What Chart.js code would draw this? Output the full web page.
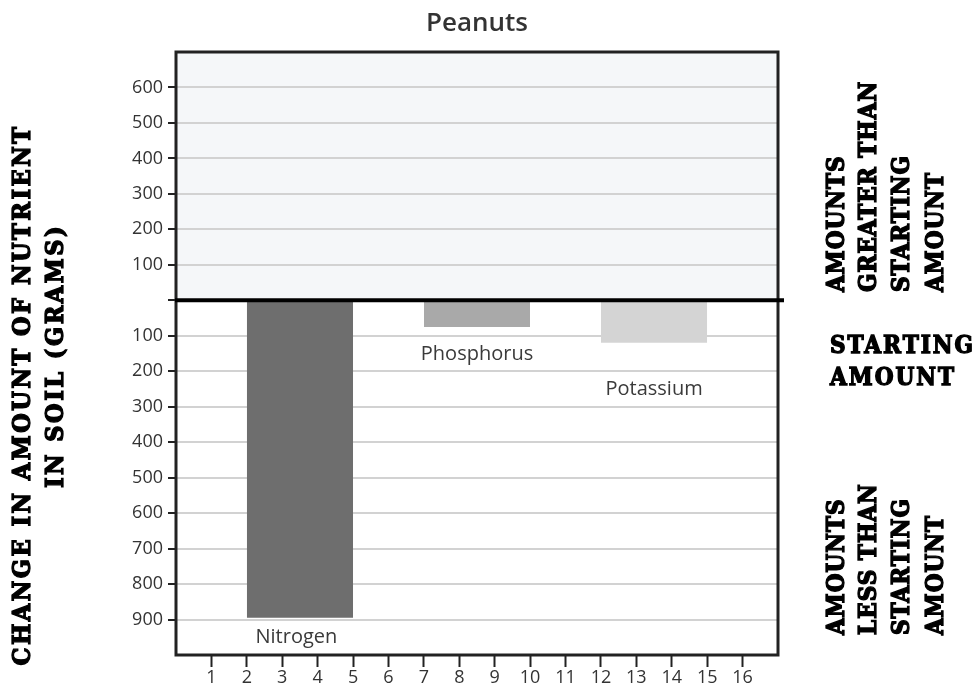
<!DOCTYPE html>
<html>
<head>
<meta charset="utf-8">
<script src="https://cdn.jsdelivr.net/npm/chart.js@4.4.0/dist/chart.umd.min.js"></script>
<style>
    html, body { margin: 0; padding: 0; background: #fff; }
    #wrap { width: 973px; height: 692px; }
</style>
</head>
<body>
<div id="wrap"><canvas id="peanutChart"></canvas></div>
<script>
// nutrient bars (grams, negative = less than starting amount)
const nutrients = ['Nitrogen', 'Phosphorus', 'Potassium'];
const barStart = [2, 7, 12];
const barEnd = [5, 10, 15];
const change = [-895, -75, -120];
const barColors = ['#6e6e6e', '#a9a9a9', '#d4d4d4'];
const labelX = [3.4, 8.5, 13.5];
const labelY = [-950, -152, -251];

const xTicks = [1, 2, 3, 4, 5, 6, 7, 8, 9, 10, 11, 12, 13, 14, 15, 16];
const yTicks = [600, 500, 400, 300, 200, 100, 0, -100, -200, -300, -400, -500, -600, -700, -800, -900];

const titleText = 'Peanuts';
const leftTitle = ['CHANGE IN AMOUNT OF NUTRIENT', 'IN SOIL (GRAMS)'];
const upperNote = ['AMOUNTS', 'GREATER THAN', 'STARTING', 'AMOUNT'];
const middleNote = ['STARTING', 'AMOUNT'];
const lowerNote = ['AMOUNTS', 'LESS THAN', 'STARTING', 'AMOUNT'];

const stampFont = 'bold 24px "DejaVu Serif Condensed", "DejaVu Serif", serif';
const leftFont = 'bold 25px "DejaVu Serif Condensed", "DejaVu Serif", serif';

// heavy "wood type" look: fill plus a thin stroke
function heavyText(ctx, text, x, y) {
    ctx.lineWidth = 1.3;
    ctx.strokeStyle = '#000';
    ctx.strokeText(text, x, y);
    ctx.fillText(text, x, y);
}

function drawUp(ctx, text, x, y, font, spacing, align) {
    ctx.save();
    ctx.translate(x, y);
    ctx.rotate(-Math.PI / 2);
    ctx.font = font;
    ctx.letterSpacing = spacing;
    ctx.textAlign = align;
    ctx.textBaseline = 'middle';
    heavyText(ctx, text, 0, 0);
    ctx.restore();
}

const decorPlugin = {
    id: 'decor',
    beforeDraw(chart) {
        const {ctx, chartArea, scales} = chart;
        const zeroY = scales.y.getPixelForValue(0);
        ctx.save();
        ctx.fillStyle = '#f5f7f9';
        ctx.fillRect(chartArea.left, chartArea.top, chartArea.right - chartArea.left, zeroY - chartArea.top);
        ctx.restore();
    },
    afterDatasetsDraw(chart) {
        const {ctx, chartArea, scales} = chart;
        const zeroY = scales.y.getPixelForValue(0);

        // bar names
        ctx.save();
        ctx.fillStyle = '#3a3a3a';
        ctx.font = '20px "Open Sans", "Noto Sans", sans-serif';
        ctx.textAlign = 'center';
        ctx.textBaseline = 'middle';
        nutrients.forEach((name, i) => {
            ctx.fillText(name, scales.x.getPixelForValue(labelX[i]), scales.y.getPixelForValue(labelY[i]));
        });
        ctx.restore();

        // frame
        ctx.save();
        ctx.strokeStyle = '#222';
        ctx.lineWidth = 3;
        ctx.strokeRect(chartArea.left, chartArea.top, chartArea.right - chartArea.left, chartArea.bottom - chartArea.top);

        // starting amount line
        ctx.strokeStyle = '#000';
        ctx.lineWidth = 4;
        ctx.beginPath();
        ctx.moveTo(chartArea.left - 1, zeroY);
        ctx.lineTo(chartArea.right + 6, zeroY);
        ctx.stroke();
        ctx.restore();
    },
    afterDraw(chart) {
        const {ctx, chartArea} = chart;
        ctx.save();
        ctx.fillStyle = '#333';
        ctx.font = '600 26px "Open Sans", "Noto Sans", sans-serif';
        ctx.textAlign = 'center';
        ctx.textBaseline = 'alphabetic';
        ctx.fillText(titleText, (chartArea.left + chartArea.right) / 2, 31);

        ctx.fillStyle = '#000';
        const cols = [838, 870, 903, 937];
        upperNote.forEach((line, i) => drawUp(ctx, line, cols[i], 292, stampFont, '1px', 'left'));
        lowerNote.forEach((line, i) => drawUp(ctx, line, cols[i], 635, stampFont, '1px', 'left'));

        ctx.font = stampFont;
        ctx.letterSpacing = '2px';
        ctx.textAlign = 'left';
        ctx.textBaseline = 'alphabetic';
        middleNote.forEach((line, i) => heavyText(ctx, line, 830, 353 + i * 32));

        drawUp(ctx, leftTitle[0], 23, 395, leftFont, '2.5px', 'center');
        drawUp(ctx, leftTitle[1], 56, 356, leftFont, '2.5px', 'center');
        ctx.restore();
    }
};

const ctx = document.getElementById('peanutChart').getContext('2d');

const datasets = nutrients.map((name, i) => ({
    label: name,
    data: [{x: barStart[i], y: change[i]}, {x: barEnd[i], y: change[i]}],
    fill: 'origin',
    backgroundColor: barColors[i],
    borderWidth: 0,
    pointRadius: 0,
    tension: 0
}));

new Chart(ctx, {
    type: 'line',
    data: { datasets: datasets },
    options: {
        responsive: true,
        maintainAspectRatio: false,
        animation: false,
        layout: {
            padding: { left: 0, top: 52, right: 195, bottom: 0 }
        },
        plugins: {
            legend: { display: false },
            tooltip: { enabled: false },
            title: { display: false }
        },
        scales: {
            x: {
                type: 'linear',
                min: 0,
                max: 17,
                afterBuildTicks: scale => { scale.ticks = xTicks.map(v => ({value: v})); },
                afterFit: scale => { scale.height = 37; },
                border: { display: false },
                grid: {
                    drawOnChartArea: false,
                    drawTicks: true,
                    tickLength: 12,
                    tickWidth: 2,
                    tickColor: '#222'
                },
                ticks: {
                    color: '#333',
                    padding: 0,
                    font: { family: '"Open Sans", "Noto Sans", sans-serif', size: 18 },
                    callback: v => String(v)
                }
            },
            y: {
                type: 'linear',
                min: -1000,
                max: 700,
                afterBuildTicks: scale => { scale.ticks = yTicks.map(v => ({value: v})); },
                afterFit: scale => { scale.width = 176; },
                border: { display: false },
                grid: {
                    color: c => c.tick && c.tick.value === 0 ? 'rgba(0,0,0,0)' : '#d2d2d2',
                    lineWidth: 2,
                    drawTicks: true,
                    tickLength: 8,
                    tickWidth: 2,
                    tickColor: '#222'
                },
                ticks: {
                    color: '#333',
                    padding: 5,
                    font: { family: '"Open Sans", "Noto Sans", sans-serif', size: 18 },
                    callback: v => v === 0 ? '' : String(Math.abs(v))
                }
            }
        }
    },
    plugins: [decorPlugin]
});
</script>
</body>
</html>
